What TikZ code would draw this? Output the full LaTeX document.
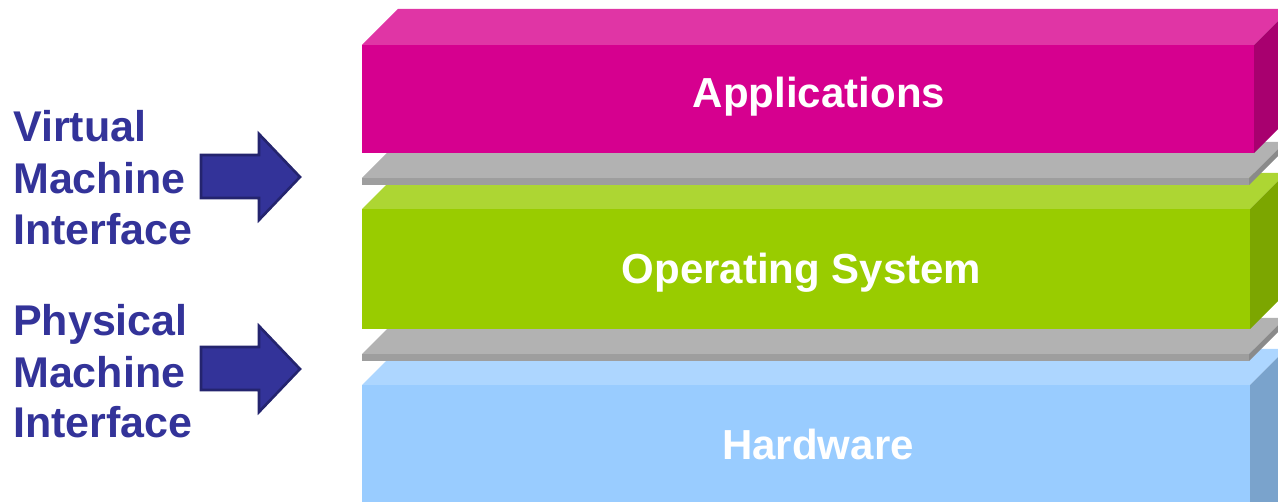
\documentclass[tikz,border=0pt]{standalone}
\usepackage{fontspec}
\setmainfont{Liberation Sans}
\begin{document}
\begin{tikzpicture}[x=1pt,y=-1pt,
  labeltext/.style={inner sep=0pt, anchor=base, font=\fontsize{42}{50}\selectfont\bfseries, text=white},
  sidetext/.style={inner sep=0pt, anchor=base west, font=\fontsize{43}{50}\selectfont\bfseries, text=navyblue},
  blockarrow/.style={fill=navyblue, draw=navyedge, line width=2.6pt, line join=miter}]
\definecolor{navyblue}{HTML}{333399}
\definecolor{navyedge}{HTML}{24246E}
\definecolor{appfront}{HTML}{D6008F}
\definecolor{apptop}{HTML}{E035A5}
\definecolor{appside}{HTML}{A8006F}
\definecolor{osfront}{HTML}{99CC00}
\definecolor{ostop}{HTML}{ADD633}
\definecolor{osside}{HTML}{7CA600}
\definecolor{hwfront}{HTML}{99CCFF}
\definecolor{hwtop}{HTML}{ADD6FF}
\definecolor{hwside}{HTML}{7AA3CC}
\definecolor{slabfront}{HTML}{9E9E9E}
\definecolor{slabtop}{HTML}{B2B2B2}
\definecolor{slabside}{HTML}{8A8A8A}

\useasboundingbox (0,0) rectangle (1278,502);
\clip (0,0) rectangle (1278,502);

% a box seen from above right: #1 left, #2 right, #3 top, #4 bottom of the front face
\def\d{36}
\newcommand\layerbox[7]{%
  \fill[#6] (#1,#3) -- ++(\d,-\d) -- (#2+\d,#3-\d) -- (#2,#3) -- cycle;
  \fill[#7] (#2,#3) -- ++(\d,-\d) -- (#2+\d,#4-\d) -- (#2,#4) -- cycle;
  \fill[#5] (#1,#3) rectangle (#2,#4);
}

% layers from the bottom up, each one hiding the back of the one below
\layerbox{362}{1250}{385}{560}{hwfront}{hwtop}{hwside}
\layerbox{362}{1249}{354}{361}{slabfront}{slabtop}{slabside}
\layerbox{362}{1250}{209}{329}{osfront}{ostop}{osside}
\layerbox{362}{1249}{178}{185}{slabfront}{slabtop}{slabside}
\layerbox{362}{1254}{45}{153}{appfront}{apptop}{appside}

\node[labeltext] (apps) at (819,108) {Applications};
\node[labeltext] (os) at (801.5,284) {Operating System};
\node[labeltext] (hw) at (818,460) {Hardware};

% interface labels
\node[sidetext] (v1) at (13,142) {Virtual};
\node[sidetext] (v2) at (13,194) {Machine};
\node[sidetext] (v3) at (13,245) {Interface};
\node[sidetext] (p1) at (13,336) {Physical};
\node[sidetext] (p2) at (13,388) {Machine};
\node[sidetext] (p3) at (13,438) {Interface};

% block arrows
\foreach \s in {0,192}{
  \draw[blockarrow, yshift=-\s pt]
    (201,155) -- (259,155) -- (259,134) -- (300,177) -- (259,220) -- (259,198) -- (201,198) -- cycle;
}
\end{tikzpicture}
\end{document}
